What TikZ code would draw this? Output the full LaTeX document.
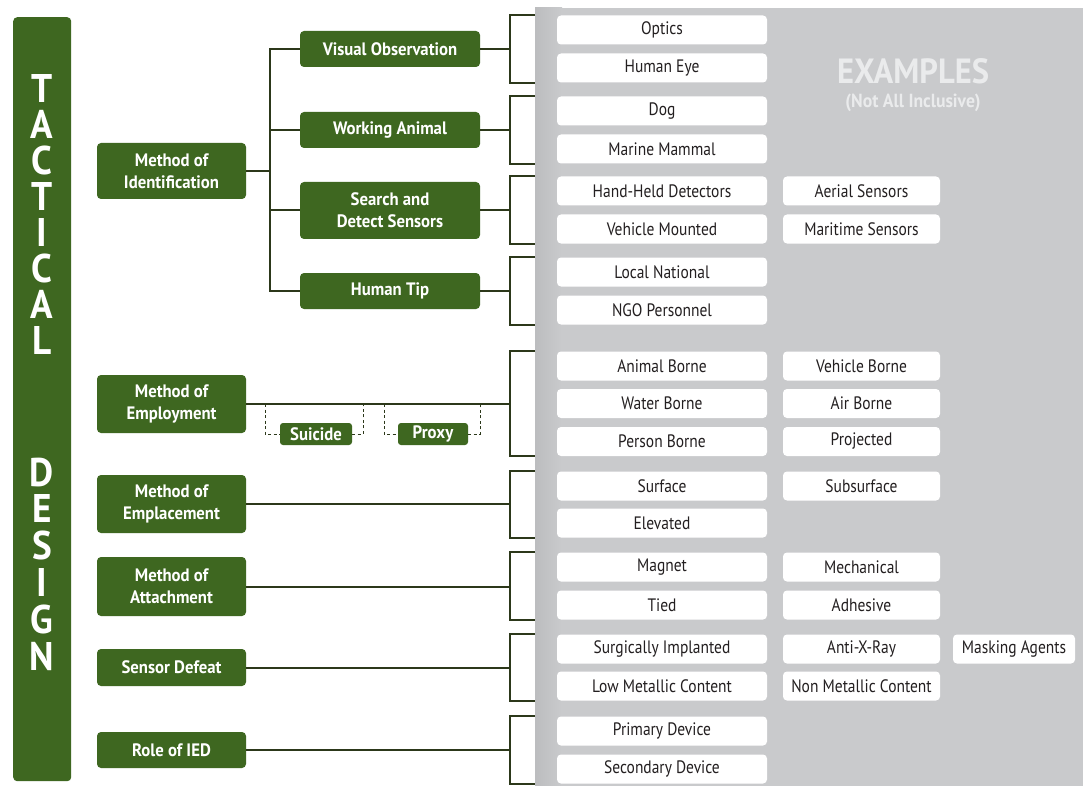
\documentclass[tikz,border=0pt]{standalone}
\usepackage{fontspec}
\setmainfont{PT Sans}[FakeStretch=0.86, BoldFeatures={FakeStretch=0.93}]
\definecolor{tgreen}{RGB}{62,103,32}
\definecolor{tline}{RGB}{44,56,26}
\definecolor{panelgray}{RGB}{201,202,204}
\definecolor{panelshade}{RGB}{188,189,191}
\definecolor{extext}{RGB}{35,31,32}
\definecolor{ghost}{RGB}{234,235,236}
\tikzset{
  conn/.style={draw=tline, line width=2pt},
  dashconn/.style={draw=tline, line width=1pt, dash pattern=on 3pt off 2.5pt},
  greenbox/.style={fill=tgreen, rounded corners=4pt, text=white, align=center, inner sep=0pt,
    font=\bfseries\fontsize{18}{22}\selectfont},
  lvlone/.style={greenbox, minimum width=149pt},
  lvltwo/.style={greenbox, minimum width=180pt},
  subbox/.style={greenbox, minimum height=22pt, rounded corners=3pt},
  exbox/.style={fill=white, rounded corners=4pt, minimum height=29pt, inner sep=0pt,
    text=extext, font=\fontsize{18}{19}\selectfont},
  colA/.style={exbox, minimum width=210pt},
  colB/.style={exbox, minimum width=157pt},
  colC/.style={exbox, minimum width=122pt},
  bartitle/.style={text=white, align=center, inner sep=0pt}
}
\begin{document}
\begin{tikzpicture}[x=1pt,y=-1pt]
\useasboundingbox (0,0) rectangle (1083,786);
\fill[white] (0,0) rectangle (1083,786);

% grey examples panel
\node[fill=panelgray, anchor=north west, minimum width=548pt, minimum height=778pt, inner sep=0pt] (panel) at (535,8) {};
\shade[left color=panelshade, right color=panelgray] (535,8) rectangle (562,786);
\node[text=ghost, font=\bfseries\fontsize{35}{37}\selectfont] (exhead) at (913,71) {EXAMPLES};
\node[text=ghost, font=\bfseries\fontsize{19}{21}\selectfont] (exsub) at (913,103) {(Not All Inclusive)};

% vertical title bar
\node[fill=tgreen, rounded corners=4pt, anchor=north west, minimum width=58pt, minimum height=764pt, inner sep=0pt] (bar) at (13,17) {};
\node[bartitle, font=\bfseries\fontsize{40}{35.9}\selectfont] (title1) at (42,214.5) {T\\A\\C\\T\\I\\C\\A\\L};
\node[bartitle, font=\bfseries\fontsize{40}{36.8}\selectfont] (title2) at (42,564) {D\\E\\S\\I\\G\\N};

% first level
\node[lvlone, minimum height=56pt] (ident) at (171.5,171) {Method of\\Identification};
\node[lvlone, minimum height=58pt] (employ) at (171.5,404) {Method of\\Employment};
\node[lvlone, minimum height=58pt] (emplace) at (171.5,504) {Method of\\Emplacement};
\node[lvlone, minimum height=59pt] (attach) at (171.5,586.5) {Method of\\Attachment};
\node[lvlone, minimum height=37pt] (defeat) at (171.5,667.5) {Sensor Defeat};
\node[lvlone, minimum height=36pt] (role) at (171.5,750) {Role of IED};

% second level
\node[lvltwo, minimum height=36pt] (visual) at (390,49) {Visual Observation};
\node[lvltwo, minimum height=36pt] (animal) at (390,130) {Working Animal};
\node[lvltwo, minimum height=57pt] (sensors) at (390,210.5) {Search and\\Detect Sensors};
\node[lvltwo, minimum height=36pt] (tip) at (390,291) {Human Tip};

\node[subbox, minimum width=72pt] (suicide) at (316,434) {Suicide};
\node[subbox, minimum width=70pt] (proxy) at (433,434) {Proxy};

% examples
\node[colA] (optics) at (662,30) {Optics};
\node[colA] (eye) at (662,68) {Human Eye};
\node[colA] (dog) at (662,111) {Dog};
\node[colA] (mammal) at (662,149) {Marine Mammal};
\node[colA] (handheld) at (662,191) {Hand-Held Detectors};
\node[colB] (aerial) at (861.5,191) {Aerial Sensors};
\node[colA] (vehmount) at (662,229) {Vehicle Mounted};
\node[colB] (maritime) at (861.5,229) {Maritime Sensors};
\node[colA] (local) at (662,272) {Local National};
\node[colA] (ngo) at (662,310) {NGO Personnel};
\node[colA] (animalb) at (662,366) {Animal Borne};
\node[colB] (vehicleb) at (861.5,366) {Vehicle Borne};
\node[colA] (waterb) at (662,403.5) {Water Borne};
\node[colB] (airb) at (861.5,403.5) {Air Borne};
\node[colA] (personb) at (662,441.5) {Person Borne};
\node[colB] (projected) at (861.5,441.5) {Projected};
\node[colA] (surface) at (662,486) {Surface};
\node[colB] (subsurface) at (861.5,486) {Subsurface};
\node[colA] (elevated) at (662,523) {Elevated};
\node[colA] (magnet) at (662,567) {Magnet};
\node[colB] (mechanical) at (861.5,567) {Mechanical};
\node[colA] (tied) at (662,605) {Tied};
\node[colB] (adhesive) at (861.5,605) {Adhesive};
\node[colA] (surgical) at (662,649) {Surgically Implanted};
\node[colB] (antix) at (861.5,649) {Anti-X-Ray};
\node[colC] (masking) at (1014,649) {Masking Agents};
\node[colA] (lowmetal) at (662,686) {Low Metallic Content};
\node[colB] (nonmetal) at (861.5,686) {Non Metallic Content};
\node[colA] (primary) at (662,731) {Primary Device};
\node[colA] (secondary) at (662,769) {Secondary Device};

% identification tree
\coordinate (trunk) at (270,171);
\draw[conn] (ident.east) -- (trunk);
\draw[conn] (visual.west) -| (trunk) |- (tip.west);
\draw[conn] (animal.west) -- (animal.west -| trunk);
\draw[conn] (sensors.west) -- (sensors.west -| trunk);

% brackets leading to the examples
\coordinate (bx) at (510,0);
\foreach \src/\top/\bot in {visual/optics/eye, animal/dog/mammal, sensors/handheld/vehmount,
    tip/local/ngo, employ/animalb/personb, emplace/surface/elevated, attach/magnet/tied,
    defeat/surgical/lowmetal, role/primary/secondary}{
  \draw[conn] (\src.east) -- (bx |- \src.east);
  \draw[conn] (panel.west |- \top.north) -- (bx |- \top.north) -- (bx |- \bot.south) -- (panel.west |- \bot.south);
}

% dashed links for employment sub types
\coordinate (s1) at (265,404);
\coordinate (s2) at (363,404);
\coordinate (p1) at (384,404);
\coordinate (p2) at (480,404);
\draw[dashconn] (s1) |- (suicide.west);
\draw[dashconn] (suicide.east) -| (s2);
\draw[dashconn] (p1) |- (proxy.west);
\draw[dashconn] (proxy.east) -| (p2);
\end{tikzpicture}
\end{document}
